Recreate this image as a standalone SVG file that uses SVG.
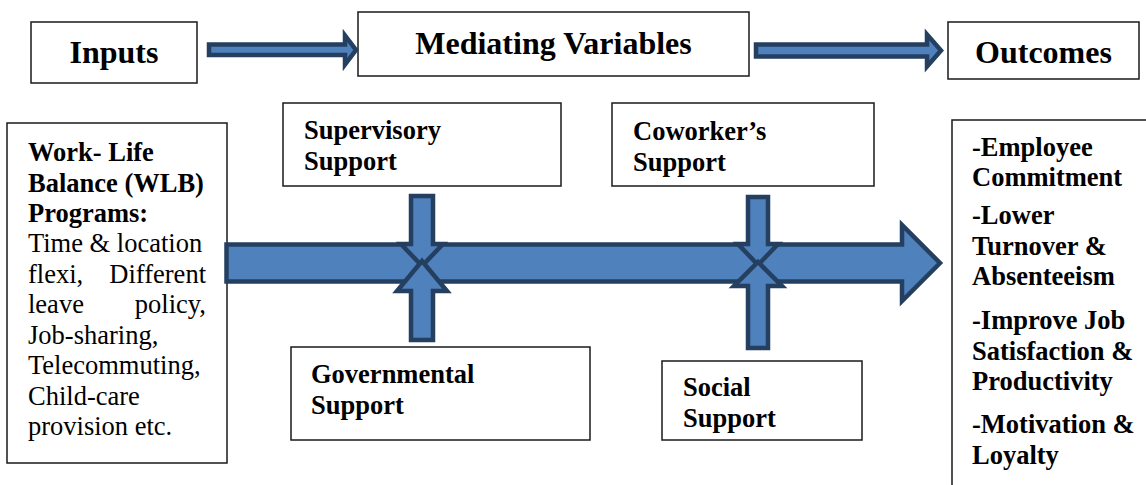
<svg xmlns="http://www.w3.org/2000/svg" width="1146" height="485" viewBox="0 0 1146 485">
<style>
.box{fill:#fff;stroke:#1a1a1a;stroke-width:1.5}
.arr{fill:#4f81bd;stroke:#243f60;stroke-width:4.5;stroke-linejoin:miter;stroke-miterlimit:10}
text{font-family:'Liberation Serif','Tinos','DejaVu Serif','Noto Serif',serif;fill:#000}
.h{font-weight:bold;font-size:32px}
.b{font-weight:bold;font-size:26.5px}
.r{font-weight:normal;font-size:26.5px}
</style>
<rect width="1146" height="485" fill="#fff"/>
<g id="inputs">
<rect class="box" x="31" y="22" width="166" height="61"/>
<text class="h" x="114" y="63" text-anchor="middle" font-family="Liberation Serif">Inputs</text>
</g>
<g id="mediating">
<rect class="box" x="358" y="12" width="391" height="64"/>
<text class="h" x="553.5" y="54" text-anchor="middle">Mediating Variables</text>
</g>
<g id="outcomes">
<rect class="box" x="948" y="22" width="191" height="57"/>
<text class="h" x="1043.5" y="63" text-anchor="middle">Outcomes</text>
</g>
<g id="wlb">
<rect class="box" x="7" y="123" width="220" height="340"/>
<text class="b" x="28" y="161">Work- Life</text>
<text class="b" x="28" y="192">Balance (WLB)</text>
<text class="b" x="28" y="222">Programs:</text>
<text class="r" x="28" y="252">Time &amp; location</text>
<text class="r" x="28" y="283">flexi,</text>
<text class="r" x="206" y="283" text-anchor="end">Different</text>
<text class="r" x="28" y="313">leave</text>
<text class="r" x="206" y="313" text-anchor="end">policy,</text>
<text class="r" x="28" y="344">Job-sharing,</text>
<text class="r" x="28" y="374">Telecommuting,</text>
<text class="r" x="28" y="405">Child-care</text>
<text class="r" x="28" y="435">provision etc.</text>
</g>
<g id="supervisory">
<rect class="box" x="283" y="103" width="278" height="83"/>
<text class="b" x="304" y="139">Supervisory</text>
<text class="b" x="304" y="170">Support</text>
</g>
<g id="coworker">
<rect class="box" x="612" y="103" width="262" height="83"/>
<text class="b" x="633" y="140">Coworker’s</text>
<text class="b" x="633" y="171">Support</text>
</g>
<g id="governmental">
<rect class="box" x="291" y="347" width="299" height="93"/>
<text class="b" x="311" y="383">Governmental</text>
<text class="b" x="311" y="414">Support</text>
</g>
<g id="social">
<rect class="box" x="662" y="361" width="200" height="79"/>
<text class="b" x="683" y="396">Social</text>
<text class="b" x="683" y="427">Support</text>
</g>
<g id="results">
<rect class="box" x="952" y="120" width="220" height="400"/>
<text class="b" x="972" y="156">-Employee</text>
<text class="b" x="972" y="186">Commitment</text>
<text class="b" x="972" y="224">-Lower</text>
<text class="b" x="972" y="255">Turnover &amp;</text>
<text class="b" x="972" y="285">Absenteeism</text>
<text class="b" x="972" y="329">-Improve Job</text>
<text class="b" x="972" y="360">Satisfaction &amp;</text>
<text class="b" x="972" y="390">Productivity</text>
<text class="b" x="972" y="433">-Motivation &amp;</text>
<text class="b" x="972" y="464">Loyalty</text>
</g>
<g id="connectors">
<path class="arr" d="M209,44.5 H345 V35.5 L356,50 L345,64.5 V55 H209 Z"/>
<path class="arr" d="M756,44.5 H927 V34.5 L941,50.5 L927,66.5 V56.5 H756 Z"/>
<path class="arr" d="M226.5,244.5 H902 V225 L940,263 L902,301 V281.5 H226.5 Z"/>
<polygon class="arr" points="411,196 433,196 433,244 443,244 422,266 401,244 411,244"/>
<polygon class="arr" points="411,340 433,340 433,291 447,291 422,261 397,291 411,291"/>
<polygon class="arr" points="748,197 768,197 768,244 778,244 758,265 738,244 748,244"/>
<polygon class="arr" points="748,348 768,348 768,286 782,286 758,262 734,286 748,286"/>
</g>
</svg>
